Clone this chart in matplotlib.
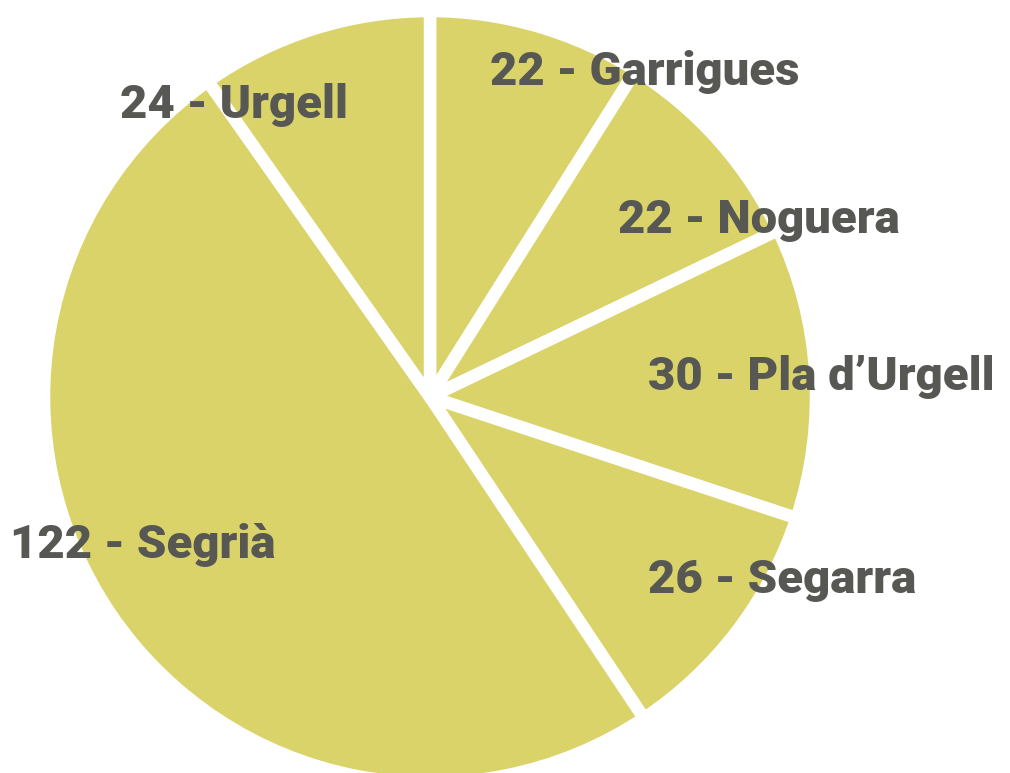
import matplotlib
matplotlib.use("Agg")
import matplotlib.pyplot as plt

# --- data ------------------------------------------------------------------
names = ["Garrigues", "Noguera", "Pla d\u2019Urgell", "Segarra", "Segrià", "Urgell"]
values = [22, 22, 30, 26, 122, 24]

# --- style -----------------------------------------------------------------
COLOR_FILL = "#dad36a"
COLOR_TEXT = "#575754"
W, H, DPI = 1010, 773, 100

# label anchor points (left edge, vertical centre) in pixels from top-left
label_px = [(490, 72), (618, 220), (648, 377), (648, 580), (10, 545), (120, 105)]

fig = plt.figure(figsize=(W / DPI, H / DPI), dpi=DPI)
cx, cy, r = 430, 397, 386
ax = fig.add_axes([(cx - r) / W, (H - cy - r) / H, 2 * r / W, 2 * r / H])
ax.pie(
    values,
    startangle=90,
    counterclock=False,
    colors=[COLOR_FILL] * len(values),
    wedgeprops=dict(edgecolor="white", linewidth=9),
    radius=1.0,
)
ax.set_xlim(-1, 1)
ax.set_ylim(-1, 1)
ax.set_aspect("equal")
ax.axis("off")

for name, val, (px, py) in zip(names, values, label_px):
    fig.text(
        px / W,
        1 - py / H,
        f"{val} - {name}",
        ha="left",
        va="center",
        color=COLOR_TEXT,
        fontsize=34,
        fontweight="heavy",
        family=["Roboto", "DejaVu Sans"],
    )

fig.savefig("out.png", dpi=DPI)
